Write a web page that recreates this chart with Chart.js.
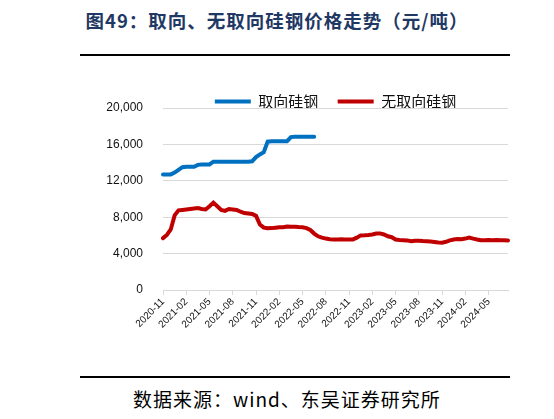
<!DOCTYPE html>
<html>
<head>
<meta charset="utf-8">
<script src="https://cdn.jsdelivr.net/npm/chart.js@4.4.1/dist/chart.umd.min.js"></script>
<style>
  body { margin: 0; width: 554px; height: 419px; background: #fff; position: relative; overflow: hidden; }
  #title { position: absolute; left: 0; top: 8px; width: 554px; text-align: center;
    font: 700 18.5px/24px "Noto Sans CJK SC", sans-serif; letter-spacing: 1px; color: #1f3864; }
  .rule { position: absolute; left: 80px; width: 430px; height: 2px; background: #000; }
  #source { position: absolute; left: 133px; top: 388px; font: 19px/22px "Noto Sans CJK SC", sans-serif;
    letter-spacing: 1px; color: #000; }
  #box { position: absolute; left: 85px; top: 80px; width: 440px; height: 260px; }
</style>
</head>
<body>
<div id="title">图49：取向、无取向硅钢价格走势（元/吨）</div>
<div class="rule" style="top:54px"></div>
<div id="box"><canvas id="grafico"></canvas></div>
<div class="rule" style="top:376px"></div>
<div id="source">数据来源：wind、东吴证券研究所</div>

<script>
// eixo x: meio em meio mês, de 2020-11 até 2024-07
const inicio = [2020, 11];
const pontos = 90;

const rotulosX = ["2020-11", "2021-02", "2021-05", "2021-08", "2021-11", "2022-02", "2022-05",
  "2022-08", "2022-11", "2023-02", "2023-05", "2023-08", "2023-11", "2024-02", "2024-05"];

const ticksY = [0, 4000, 8000, 12000, 16000, 20000];

const nomes = ["取向硅钢", "无取向硅钢"];

// 取向硅钢 (até 2022-06)
const orientado = [
  12700, 12700, 12700, 12900, 13200, 13500, 13550, 13550, 13550, 13750,
  13800, 13800, 13800, 14100, 14100, 14100, 14100, 14100, 14100, 14100,
  14100, 14100, 14100, 14150, 14600, 14900, 15150, 16300, 16350, 16350,
  16350, 16350, 16350, 16800, 16850, 16850, 16850, 16850, 16850, 16850
];

// 无取向硅钢
const naoOrientado = [
  5700, 6050, 6650, 8200, 8750, 8800, 8850, 8900, 8950, 9000,
  8900, 8850, 9200, 9600, 9200, 8800, 8700, 8900, 8850, 8800,
  8600, 8450, 8400, 8350, 8150, 7200, 6850, 6780, 6800, 6850,
  6900, 6900, 6980, 6950, 6950, 6920, 6900, 6800, 6600, 6200,
  5900, 5750, 5650, 5580, 5550, 5550, 5570, 5550, 5560, 5560,
  5750, 6000, 6020, 6050, 6100, 6200, 6220, 6100, 5900, 5800,
  5550, 5500, 5480, 5450, 5350, 5420, 5420, 5380, 5350, 5320,
  5280, 5220, 5200, 5300, 5450, 5550, 5600, 5580, 5650, 5750,
  5650, 5550, 5480, 5480, 5500, 5480, 5500, 5470, 5460, 5450
];

const cores = ["#0070c0", "#c00000"];

const categorias = [];
for (let i = 0; i < pontos; i++) {
  const m = inicio[1] - 1 + Math.floor(i / 2);
  const ano = inicio[0] + Math.floor(m / 12);
  const mes = String(m % 12 + 1).padStart(2, "0");
  categorias.push(`${ano}-${mes}-${i % 2 === 0 ? "01" : "16"}`);
}

const fonteNum = { family: "Liberation Sans, Arial, sans-serif", size: 12 };

new Chart(document.getElementById("grafico"), {
  type: "line",
  data: {
    labels: categorias,
    datasets: [
      { label: nomes[0], data: orientado, borderColor: cores[0], backgroundColor: cores[0],
        borderWidth: 4, borderCapStyle: "round", pointRadius: 0, tension: 0 },
      { label: nomes[1], data: naoOrientado, borderColor: cores[1], backgroundColor: cores[1],
        borderWidth: 4, borderCapStyle: "round", pointRadius: 0, tension: 0 }
    ]
  },
  options: {
    responsive: true,
    maintainAspectRatio: false,
    animation: false,
    layout: { autoPadding: false, padding: { top: 13, right: 17, left: 0, bottom: 0 } },
    plugins: {
      tooltip: { enabled: false },
      legend: {
        position: "top",
        fullSize: false,
        maxHeight: 15,
        labels: {
          usePointStyle: true,
          pointStyle: "line",
          pointStyleWidth: 36,
          padding: 1,
          color: "#111",
          font: { family: "Noto Sans CJK SC", size: 15 },
          generateLabels: chart => Chart.defaults.plugins.legend.labels.generateLabels(chart)
            .map((l, i, arr) => ({ ...l, text: i < arr.length - 1 ? l.text + "\u3000 " : l.text }))
        }
      }
    },
    scales: {
      x: {
        offset: false,
        afterFit: s => { s.height = 50; },
        border: { color: "#d9d9d9" },
        grid: { drawOnChartArea: false, drawTicks: true, tickLength: 5, color: "#d9d9d9" },
        ticks: {
          autoSkip: false, minRotation: 45, maxRotation: 45, padding: 1,
          color: "#111", font: { family: "Liberation Sans, Arial, sans-serif", size: 10 },
          callback: (v, i) => i % 6 === 0 ? rotulosX[i / 6] : null
        }
      },
      y: {
        min: ticksY[0],
        max: ticksY[ticksY.length - 1],
        afterFit: s => { s.width = 78; },
        border: { display: false },
        grid: { color: "#d9d9d9", drawTicks: false },
        ticks: {
          stepSize: ticksY[1] - ticksY[0], padding: 20, color: "#111", font: fonteNum,
          callback: v => v.toLocaleString("en-US")
        }
      }
    }
  }
});
</script>
</body>
</html>
